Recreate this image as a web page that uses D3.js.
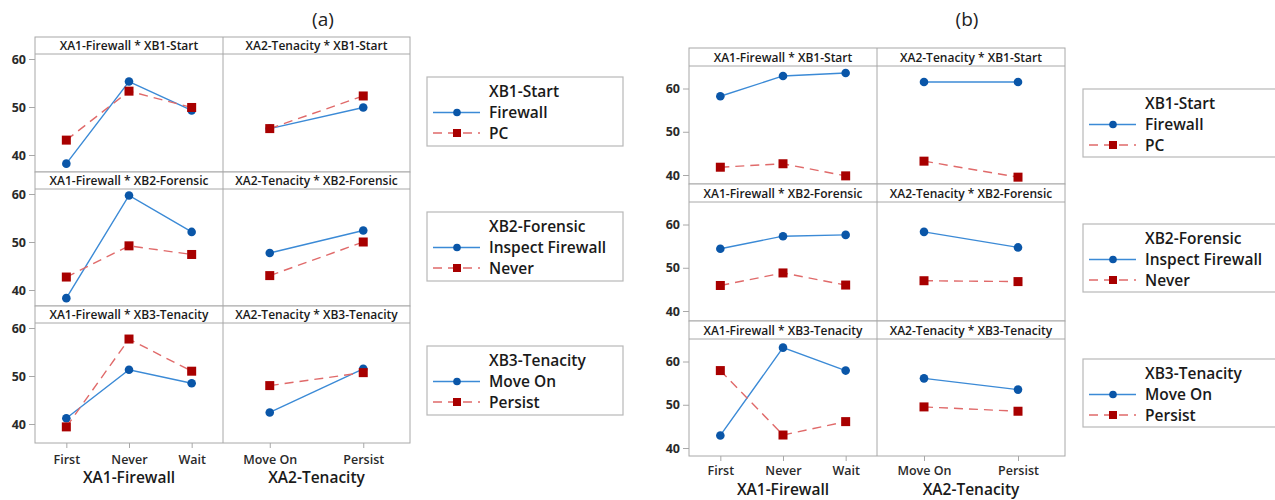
<!DOCTYPE html>
<html>
<head>
<meta charset="utf-8">
<script src="https://cdn.jsdelivr.net/npm/d3@7"></script>
<style>
  body { margin: 0; background: #fff; }
  text { font-family: "Open Sans", "Noto Sans", sans-serif; }
</style>
</head>
<body>
<div id="chart"></div>
<script>
// Factor levels
var xa1Levels = ['First', 'Never', 'Wait'];
var xa2Levels = ['Move On', 'Persist'];
var rowFactors = ['XB1-Start', 'XB2-Forensic', 'XB3-Tenacity'];
var rowLevels = [['Firewall', 'PC'], ['Inspect Firewall', 'Never'], ['Move On', 'Persist']];
var yTicks = [40, 50, 60];

// Panel (a) means, one row per XB factor (first level = blue, second level = red)
var aFirewallLevel1 = [[38.2, 55.3, 49.3], [38.3, 59.7, 52.1], [41.2, 51.3, 48.5]];
var aFirewallLevel2 = [[43.1, 53.3, 49.9], [42.7, 49.2, 47.4], [39.4, 57.7, 51.0]];
var aTenacityLevel1 = [[45.5, 49.9], [47.7, 52.4], [42.4, 51.5]];
var aTenacityLevel2 = [[45.5, 52.3], [43.0, 50.0], [48.0, 50.7]];

// Panel (b) means
var bFirewallLevel1 = [[58.2, 62.9, 63.6], [54.4, 57.3, 57.6], [42.9, 63.2, 57.9]];
var bFirewallLevel2 = [[41.8, 42.6, 39.8], [45.9, 48.8, 46.0], [57.9, 43.0, 46.1]];
var bTenacityLevel1 = [[61.5, 61.5], [58.3, 54.7], [56.1, 53.5]];
var bTenacityLevel2 = [[43.2, 39.5], [47.0, 46.8], [49.5, 48.5]];

var blueDot = '#0a56a8', blueLine = '#3b8ad6';
var redDot = '#a80000', redLine = '#e06a6a';
var frame = '#a8a8a8';
var ink = '#1a1a1a';

var svg = d3.select('#chart').append('svg')
    .attr('width', 1275)
    .attr('height', 500);

var panels = [
  { title: '(a)', titleX: 323, left: 35, mid: 223, right: 410, rowTops: [37, 172, 306], bottom: 443,
    stripH: 17, y60: 5, ySpan: 96, tickY: 456, axisY: 483,
    legX: 427, legW: 196, legTops: [77, 212, 346], legH: 69,
    fw1: aFirewallLevel1, fw2: aFirewallLevel2, tn1: aTenacityLevel1, tn2: aTenacityLevel2 },
  { title: '(b)', titleX: 967, left: 689, mid: 877, right: 1065, rowTops: [48, 184, 321], bottom: 456,
    stripH: 18, y60: 22.5, ySpan: 86.5, tickY: 467, axisY: 495,
    legX: 1083, legW: 210, legTops: [89, 224, 359], legH: 68,
    fw1: bFirewallLevel1, fw2: bFirewallLevel2, tn1: bTenacityLevel1, tn2: bTenacityLevel2 }
];

panels.forEach(function(p) {
  var g = svg.append('g');

  g.append('text')
      .attr('x', p.titleX).attr('y', 26)
      .attr('text-anchor', 'middle')
      .style('font-size', '19px')
      .style('fill', '#222')
      .text(p.title);

  var xFw = d3.scalePoint().domain(xa1Levels).range([p.left, p.mid]).padding(0.5);
  var xTn = d3.scalePoint().domain(xa2Levels).range([p.mid, p.right]).padding(0.5);

  rowFactors.forEach(function(rf, r) {
    var top = p.rowTops[r];
    var bot = r < 2 ? p.rowTops[r + 1] : p.bottom;
    var dataTop = top + p.stripH;
    var y = d3.scaleLinear().domain([40, 60]).range([dataTop + p.y60 + p.ySpan, dataTop + p.y60]);

    // strip headers and frames
    g.append('rect')
        .attr('x', p.left).attr('y', top)
        .attr('width', p.right - p.left).attr('height', bot - top)
        .style('fill', 'white').style('stroke', frame);
    g.append('line')
        .attr('x1', p.left).attr('x2', p.right)
        .attr('y1', dataTop).attr('y2', dataTop)
        .style('stroke', frame);
    g.append('line')
        .attr('x1', p.mid).attr('x2', p.mid)
        .attr('y1', top).attr('y2', bot)
        .style('stroke', frame);

    [['XA1-Firewall', p.left, p.mid], ['XA2-Tenacity', p.mid, p.right]].forEach(function(s) {
      g.append('text')
          .attr('x', (s[1] + s[2]) / 2).attr('y', top + p.stripH / 2 + 4.5)
          .attr('text-anchor', 'middle')
          .style('font-size', '12px')
          .style('font-weight', 600)
          .style('fill', ink)
          .text(s[0] + ' * ' + rf);
    });

    // y axis
    var yAxis = g.append('g')
        .attr('transform', 'translate(' + p.left + ',0)')
        .call(d3.axisLeft(y).tickValues(yTicks).tickSize(6).tickPadding(3));
    yAxis.select('.domain').remove();
    yAxis.selectAll('line').style('stroke', frame);
    yAxis.selectAll('text')
        .style('font-size', '12.5px').style('font-weight', 700)
        .style('fill', '#2a2a2a').style('font-family', '"Open Sans", sans-serif');

    // series
    var series = [
      { x: xFw, lv: xa1Levels, vals: p.fw1[r], dot: blueDot, line: blueLine, dash: null, shape: 'c' },
      { x: xFw, lv: xa1Levels, vals: p.fw2[r], dot: redDot, line: redLine, dash: '9,6', shape: 's' },
      { x: xTn, lv: xa2Levels, vals: p.tn1[r], dot: blueDot, line: blueLine, dash: null, shape: 'c' },
      { x: xTn, lv: xa2Levels, vals: p.tn2[r], dot: redDot, line: redLine, dash: '9,6', shape: 's' }
    ];
    series.forEach(function(s) {
      var pts = s.vals.map(function(v, i) { return [s.x(s.lv[i]), y(v)]; });
      g.append('path')
          .attr('d', d3.line()(pts))
          .style('fill', 'none')
          .style('stroke', s.line)
          .style('stroke-width', 1.4)
          .style('stroke-dasharray', s.dash);
      if (s.shape === 'c') {
        g.selectAll(null).data(pts).enter().append('circle')
            .attr('cx', function(d) { return d[0]; })
            .attr('cy', function(d) { return d[1]; })
            .attr('r', 4.3)
            .style('fill', s.dot);
      } else {
        g.selectAll(null).data(pts).enter().append('rect')
            .attr('x', function(d) { return d[0] - 4.5; })
            .attr('y', function(d) { return d[1] - 4.5; })
            .attr('width', 9).attr('height', 9)
            .style('fill', s.dot);
      }
    });
  });

  // x axes
  [[xFw, 'XA1-Firewall', p.left, p.mid], [xTn, 'XA2-Tenacity', p.mid, p.right]].forEach(function(a) {
    var xAxis = g.append('g')
        .attr('transform', 'translate(0,' + p.bottom + ')')
        .call(d3.axisBottom(a[0]).tickSize(5).tickPadding(p.tickY - p.bottom - 1));
    xAxis.select('.domain').remove();
    xAxis.selectAll('line').style('stroke', frame);
    xAxis.selectAll('text')
        .attr('dy', '0.35em')
        .style('font-size', '12.5px').style('font-weight', 600)
        .style('fill', '#2a2a2a').style('font-family', '"Open Sans", sans-serif');
    g.append('text')
        .attr('x', (a[2] + a[3]) / 2).attr('y', p.axisY)
        .attr('text-anchor', 'middle')
        .style('font-size', '15.5px').style('font-weight', 600)
        .style('fill', ink)
        .text(a[1]);
  });

  // legends
  rowFactors.forEach(function(rf, r) {
    var lx = p.legX, ly = p.legTops[r];
    var lg = g.append('g');
    lg.append('rect')
        .attr('x', lx).attr('y', ly)
        .attr('width', p.legW).attr('height', p.legH)
        .style('fill', 'white').style('stroke', '#b8b8b8').style('stroke-width', 1.2);
    lg.append('text')
        .attr('x', lx + 62).attr('y', ly + 19.5)
        .style('font-size', '15.5px').style('font-weight', 600).style('fill', ink)
        .text(rf);
    rowLevels[r].forEach(function(lv, i) {
      var cy = ly + 35.5 + i * 20.5;
      lg.append('line')
          .attr('x1', lx + 6).attr('x2', lx + 53)
          .attr('y1', cy).attr('y2', cy)
          .style('stroke', i === 0 ? blueLine : redLine)
          .style('stroke-width', 1.4)
          .style('stroke-dasharray', i === 0 ? null : '9,6');
      if (i === 0) {
        lg.append('circle').attr('cx', lx + 30).attr('cy', cy).attr('r', 3.8).style('fill', blueDot);
      } else {
        lg.append('rect').attr('x', lx + 26).attr('y', cy - 4).attr('width', 8).attr('height', 8).style('fill', redDot);
      }
      lg.append('text')
          .attr('x', lx + 62).attr('y', cy + 5.5)
          .style('font-size', '15.5px').style('font-weight', 600).style('fill', ink)
          .text(lv);
    });
  });
});
</script>
</body>
</html>
